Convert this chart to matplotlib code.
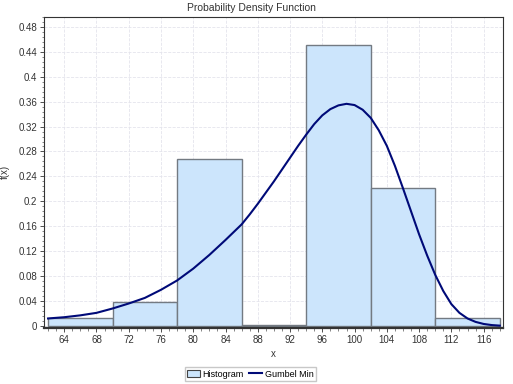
import matplotlib
matplotlib.use("Agg")
import matplotlib.pyplot as plt
from matplotlib.ticker import MultipleLocator
from matplotlib.patches import Patch
from matplotlib.lines import Line2D

# histogram bins (edges, width 8) and heights
bin_edges = [62, 70, 78, 86, 94, 102, 110, 118]
bin_heights = [0.013, 0.038, 0.268, 0.001, 0.451, 0.222, 0.013]

# Gumbel Min curve
curve_x = [62, 64, 66, 68, 70, 72, 74, 76, 78, 80, 82, 84, 86, 87, 88, 89, 90,
           91, 92, 93, 94, 95, 96, 97, 98, 99, 100, 101, 102, 103, 104, 105,
           106, 107, 108, 109, 110, 111, 112, 113, 114, 115, 116, 117, 118]
curve_y = [0.012, 0.014, 0.017, 0.021, 0.028, 0.036, 0.045, 0.058, 0.073,
           0.092, 0.114, 0.138, 0.163, 0.179, 0.196, 0.214, 0.232, 0.251,
           0.270, 0.289, 0.307, 0.324, 0.338, 0.348, 0.354, 0.3565, 0.3545,
           0.347, 0.334, 0.314, 0.289, 0.257, 0.221, 0.184, 0.147, 0.113,
           0.082, 0.056, 0.035, 0.021, 0.012, 0.0065, 0.0032, 0.0014, 0.0005]

plt.rcParams["font.family"] = ["Liberation Sans", "DejaVu Sans"]

fig = plt.figure(figsize=(5.13, 3.84), dpi=100)
ax = fig.add_axes([0.0858, 0.146, 0.8947, 0.81])

lefts = bin_edges[:-1]
widths = [b - a for a, b in zip(bin_edges[:-1], bin_edges[1:])]
ax.bar(lefts, bin_heights, width=widths, align="edge", color="#cce5fc",
       edgecolor="#737a82", linewidth=1.0, zorder=2)
ax.plot(curve_x, curve_y, color="#000a78", linewidth=1.5, zorder=3)

ax.set_xlim(61.5, 118.4)
ax.set_ylim(-0.0032, 0.496)
ax.xaxis.set_minor_locator(MultipleLocator(1))
ax.yaxis.set_minor_locator(MultipleLocator(0.008))
ax.set_xticks(range(64, 117, 4))
ax.set_yticks([0, 0.04, 0.08, 0.12, 0.16, 0.2, 0.24, 0.28, 0.32, 0.36, 0.4, 0.44, 0.48])
ax.set_yticklabels(["0", "0.04", "0.08", "0.12", "0.16", "0.2", "0.24", "0.28",
                    "0.32", "0.36", "0.4", "0.44", "0.48"])
ax.tick_params(axis="both", which="major", labelsize=7, length=3, width=0.6,
               colors="#333333", pad=2)
ax.tick_params(axis="both", which="minor", length=1.8, width=0.5, colors="#555555")
ax.grid(True, which="major", color="#e4e4ec", linestyle="--", linewidth=0.6, zorder=0)
ax.set_axisbelow(True)
for s in ax.spines.values():
    s.set_color("#333333")
    s.set_linewidth(0.8)
ax.spines["bottom"].set_linewidth(1.6)

ax.set_xlabel("x", fontsize=7, color="#333333", labelpad=3)
ax.set_ylabel("f(x)", fontsize=7, color="#333333", labelpad=6)
fig.text(0.49, 0.978, "Probability Density Function", ha="center", va="center",
         fontsize=7.5, color="#333333")

handles = [Patch(facecolor="#cce5fc", edgecolor="#444444", linewidth=0.8),
           Line2D([0], [0], color="#000a78", linewidth=1.5)]
fig.legend(handles, ["Histogram", "Gumbel Min"], loc="center",
           bbox_to_anchor=(0.488, 0.026), ncol=2, fontsize=6.5, frameon=True,
           fancybox=False, edgecolor="#bbbbbb", handlelength=1.4,
           handleheight=0.9, handletextpad=0.3, columnspacing=0.6,
           borderpad=0.3)

fig.savefig("out.png", dpi=100)
